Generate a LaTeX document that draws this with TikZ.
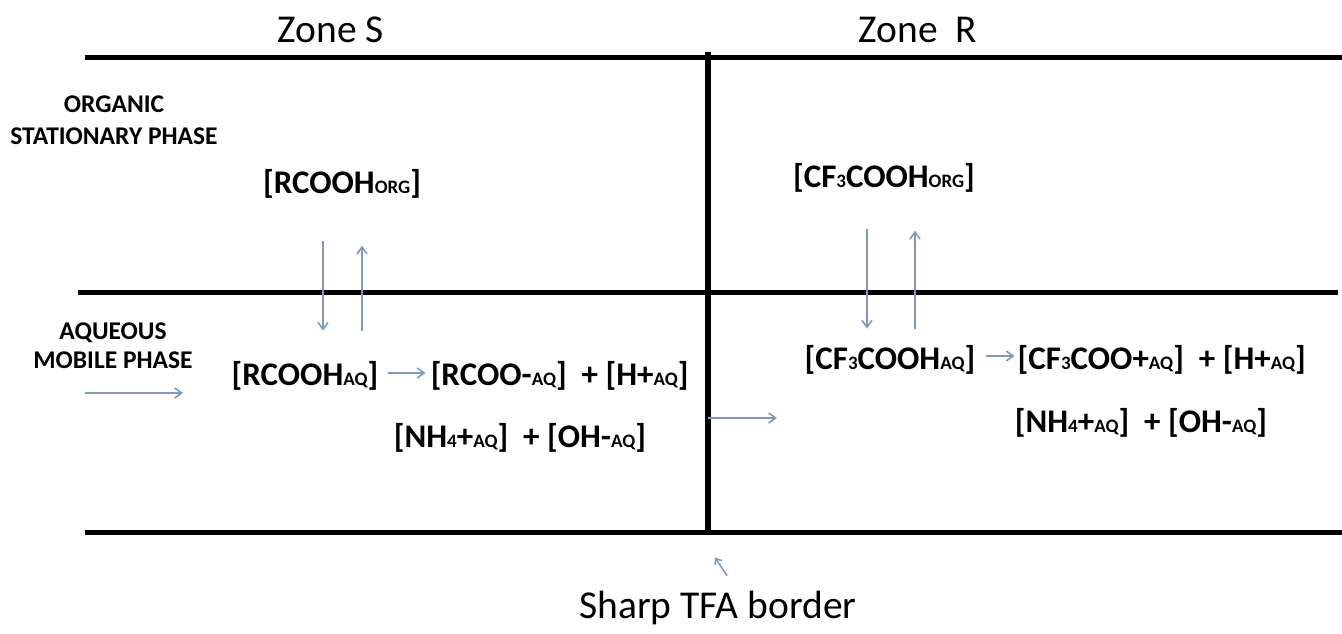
\documentclass[tikz,border=0pt]{standalone}
\usepackage{fontspec}
\setmainfont{Carlito}
\usepackage{tikz}
\usetikzlibrary{arrows.meta, positioning, calc}

\definecolor{flowblue}{RGB}{122,152,200}
\newcommand{\lowtxt}[1]{{\fontsize{19}{19}\selectfont #1}}

\begin{document}
\begin{tikzpicture}[x=1pt, y=-1pt,
                border/.style={line width=5pt},
                zone/.style={font=\fontsize{39.5}{40}\selectfont},
                phase/.style={font=\bfseries\fontsize{25.5}{32}\selectfont, align=center},
                chem/.style={font=\bfseries\fontsize{33}{34}\selectfont, inner sep=0pt},
                flow/.style={draw=flowblue, line width=1.6pt, -{Straight Barb[length=7pt, width=10pt]}}
            ]
                \useasboundingbox (0,0) rectangle (1342,633);

                % Phase borders
                \draw[border] (85,57) -- (1342,57);
                \draw[border] (78,292) -- (1338,292);
                \draw[border] (85,532) -- (1342,532);
                \draw[line width=6pt] (708,52) -- (708,532);

                % Zone titles
                \node[zone] (zoneS) at (331,30) {Zone S};
                \node[zone] (zoneR) at (918,30) {Zone\ \ R};

                % Phase labels
                \node[phase] (orgphase) at (114,120) {ORGANIC\\STATIONARY PHASE};
                \node[phase, font=\bfseries\fontsize{25.5}{29}\selectfont] (aqphase) at (113,346) {AQUEOUS\\MOBILE PHASE};

                % Zone S species
                \node[chem] (RCOOHorg) at (342,184) {[RCOOH\lowtxt{ORG}]};
                \node[chem] (RCOOHaq) at (305,376) {[RCOOH\lowtxt{AQ}]};
                \node[chem, right=52pt of RCOOHaq] (RCOOaq) {[RCOO-\lowtxt{AQ}]\ \ +\ [H+\lowtxt{AQ}]};
                \node[chem] (NHaqS) at (520,438) {[NH\lowtxt{4}+\lowtxt{AQ}]\ \ +\ [OH-\lowtxt{AQ}]};

                % Zone R species
                \node[chem] (CForg) at (884,178) {[CF\lowtxt{3}COOH\lowtxt{ORG}]};
                \node[chem] (CFaq) at (890,360) {[CF\lowtxt{3}COOH\lowtxt{AQ}]};
                \node[chem, right=42pt of CFaq] (CFCOOaq) {[CF\lowtxt{3}COO+\lowtxt{AQ}]\ \ +\ [H+\lowtxt{AQ}]};
                \node[chem] (NHaqR) at (1141,423) {[NH\lowtxt{4}+\lowtxt{AQ}]\ \ +\ [OH-\lowtxt{AQ}]};

                % Bottom label
                \node[zone] (tfa) at (718,608) {Sharp TFA border};

                % Exchange arrows
                \draw[flow] ($(RCOOHorg.south)+(-19,42)$) -- ($(RCOOHorg.south)+(-19,132)$);
                \draw[flow] ($(RCOOHorg.south)+(20,132)$) -- ($(RCOOHorg.south)+(20,47)$);
                \draw[flow] ($(CForg.south)+(-17,36)$) -- ($(CForg.south)+(-17,136)$);
                \draw[flow] ($(CForg.south)+(31,136)$) -- ($(CForg.south)+(31,38)$);

                % Reaction arrows
                \draw[flow] (RCOOHaq.east) ++(9,-3) coordinate (rxS) -- ($(RCOOaq.west)+(-5,-3)$);
                \draw[flow] (CFaq.east) ++(10,-4) coordinate (rxR) -- ($(CFCOOaq.west)+(-3,-4)$);

                % Mobile phase flow
                \coordinate (inflow) at (85,393);
                \draw[flow] (inflow) -- ++(98,0);
                \coordinate (cross) at (708,418);
                \draw[flow] (cross) -- ++(69,0);
                \draw[flow, -{Straight Barb[length=5pt, width=8pt]}] ($(tfa.north)+(9,-12)$) -- ($(tfa.north)+(-3,-30)$);
            \end{tikzpicture}
\end{document}
